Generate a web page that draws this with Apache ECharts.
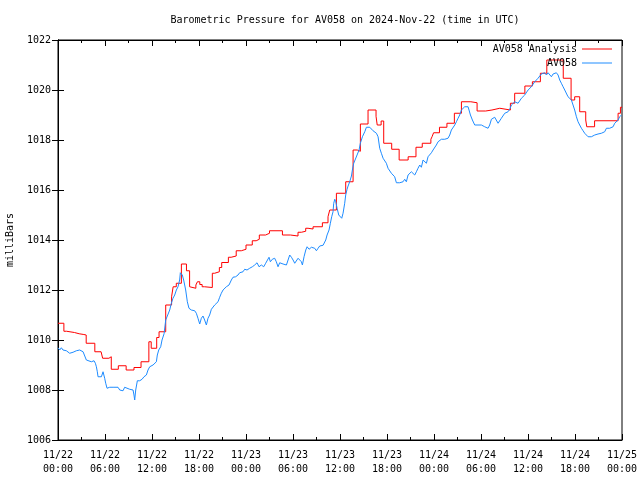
<!DOCTYPE html>
<html>
<head>
<meta charset="utf-8">
<script src="https://cdn.jsdelivr.net/npm/echarts@6/dist/echarts.min.js"></script>
<style>html,body{margin:0;padding:0;background:#fff}#c{width:640px;height:480px}</style>
</head>
<body>
<div id="c"></div>
<script>
// hours since 2024-11-22 00:00 UTC
var xTickLabels = ['11/22\n00:00','11/22\n06:00','11/22\n12:00','11/22\n18:00','11/23\n00:00','11/23\n06:00','11/23\n12:00','11/23\n18:00','11/24\n00:00','11/24\n06:00','11/24\n12:00','11/24\n18:00','11/25\n00:00'];

var redHours = [0,0.75,1.1,2.1,2.35,2.7,3.3,3.6,4.7,5.5,5.7,6.5,6.8,7.7,8.7,9.7,10.6,11.6,11.9,12.6,12.9,13.75,14.5,14.7,15.1,15.75,16.4,16.8,17.0,17.6,17.8,18.1,18.4,18.7,19.7,20.0,20.6,20.9,21.75,22.1,22.75,23.4,24.0,24.8,25.3,25.7,26.5,27.0,28.65,29.67,30.64,31.07,31.62,31.92,32.56,33.75,34.47,34.69,35.54,36.73,37.67,38.2,38.6,39.58,40.6,40.75,41.25,41.58,42.6,43.55,44.7,45.7,46.5,47.6,47.75,47.95,48.7,49.65,50.6,51.5,52.7,53.5,54.6,55.4,56.4,57.75,58.3,59.6,60.56,61.58,62.4,64.5,65.5,65.96,66.6,67.37,67.5,68.5,71.5,71.8,72];
var redValues = [1010.67,1010.35,1010.3,1010.36,1010.25,1010.22,1010.2,1009.87,1009.53,1009.47,1009.27,1009.33,1008.83,1008.97,1008.8,1008.9,1009.13,1009.93,1009.67,1010.1,1010.33,1011.4,1011.73,1012.13,1012.27,1013.04,1012.77,1012.13,1012.07,1012.2,1012.33,1012.22,1012.13,1012.1,1012.67,1012.73,1012.9,1013.1,1013.31,1013.36,1013.57,1013.63,1013.8,1013.97,1014.03,1014.2,1014.27,1014.37,1014.2,1014.16,1014.31,1014.35,1014.47,1014.44,1014.53,1014.69,1014.93,1015.2,1015.87,1016.33,1017.6,1017.55,1018.64,1019.2,1018.95,1018.6,1018.76,1017.87,1017.63,1017.2,1017.33,1017.71,1017.87,1018.03,1018.13,1018.29,1018.51,1018.67,1019.07,1019.53,1019.49,1019.16,1019.2,1019.27,1019.2,1019.47,1019.87,1020.16,1020.33,1020.67,1021.2,1020.47,1019.6,1019.73,1019.13,1018.8,1018.53,1018.77,1019.07,1019.31,1019.31];

var blueHours = [0,0.22,0.43,0.64,0.85,1.07,1.28,1.49,1.71,1.92,2.13,2.34,2.56,2.77,3.2,3.41,3.62,3.83,4.26,4.6,4.77,4.9,5.02,5.11,5.32,5.54,5.75,5.96,6.09,6.26,6.47,6.6,6.81,7.03,7.66,7.88,8.09,8.3,8.51,8.73,9.15,9.58,9.7,9.79,9.92,10.13,10.43,10.73,10.98,11.28,11.49,11.71,12.13,12.34,12.56,12.68,12.86,13.11,13.28,13.54,13.75,14.0,14.26,14.47,14.68,14.9,15.11,15.32,15.53,15.62,15.87,16.04,16.3,16.51,16.72,17.02,17.45,17.66,17.87,18.09,18.3,18.51,18.72,18.94,19.15,19.36,19.58,19.79,20.0,20.43,20.64,20.85,21.07,21.28,21.49,21.83,22.13,22.34,22.68,22.98,23.19,23.62,23.83,24.13,24.47,24.81,25.11,25.41,25.66,25.96,26.26,26.51,26.68,26.94,27.11,27.36,27.66,27.87,28.09,28.3,28.52,28.73,28.94,29.16,29.37,29.58,29.8,30.01,30.22,30.43,30.65,30.86,31.07,31.2,31.41,31.63,31.8,32.05,32.35,32.56,32.77,32.99,33.2,33.41,33.84,34.05,34.18,34.35,34.6,34.77,34.94,35.11,35.2,35.33,35.46,35.63,35.84,36.05,36.22,36.39,36.6,36.73,36.9,37.03,37.24,37.46,37.58,37.75,37.97,38.18,38.43,38.6,38.86,39.16,39.37,39.8,40.01,40.22,40.43,40.65,40.86,41.07,41.28,41.5,41.71,41.92,42.13,42.35,42.56,42.77,42.98,43.2,43.41,43.62,43.83,44.05,44.26,44.47,44.69,44.9,45.11,45.33,45.54,45.75,45.96,46.18,46.39,46.6,46.81,47.03,47.24,47.45,47.67,47.88,48.09,48.3,48.52,48.73,48.94,49.37,49.79,50.01,50.22,50.43,50.65,50.86,51.07,51.28,51.5,51.71,51.92,52.14,52.35,52.47,52.65,52.9,53.2,53.41,53.62,53.84,54.05,54.26,54.47,54.69,54.9,55.11,55.33,55.54,55.75,55.96,56.18,56.39,56.6,56.82,57.03,57.24,57.45,57.67,57.88,58.09,58.3,58.52,58.73,58.94,59.16,59.37,59.58,59.8,60.01,60.22,60.43,60.65,60.86,61.07,61.28,61.5,61.71,61.92,62.13,62.35,62.56,62.77,62.99,63.2,63.41,63.62,63.84,64.05,64.26,64.48,64.69,64.9,65.11,65.33,65.54,65.75,65.96,66.18,66.39,66.6,66.82,67.03,67.24,67.45,67.67,68.09,68.31,68.52,68.73,68.94,69.16,69.37,69.58,69.79,70.01,70.22,70.43,70.65,70.86,71.07,71.28,71.5,71.71,71.93];
var blueValues = [1009.69,1009.6,1009.69,1009.6,1009.67,1009.57,1009.53,1009.47,1009.47,1009.51,1009.53,1009.57,1009.53,1009.6,1009.53,1009.47,1009.2,1009.17,1009.13,1009.17,1009.07,1008.93,1008.73,1008.53,1008.6,1008.53,1008.73,1008.47,1008.27,1008.07,1008.0,1008.11,1008.07,1008.11,1008.11,1008.0,1007.93,1007.97,1008.11,1008.03,1008.03,1008.0,1007.8,1007.6,1008.0,1008.37,1008.37,1008.43,1008.53,1008.6,1008.8,1008.93,1009.0,1008.93,1009.13,1009.4,1009.6,1009.73,1010.0,1010.25,1010.8,1010.87,1011.2,1011.47,1011.67,1011.8,1012.0,1012.13,1012.4,1012.69,1012.6,1012.4,1012.0,1011.53,1011.27,1011.2,1011.17,1011.07,1010.87,1010.64,1010.87,1010.96,1010.8,1010.6,1010.87,1011.0,1011.23,1011.31,1011.4,1011.53,1011.71,1011.87,1012.0,1012.07,1012.13,1012.2,1012.4,1012.51,1012.53,1012.6,1012.69,1012.73,1012.83,1012.8,1012.87,1012.93,1013.0,1013.09,1012.93,1013.0,1012.93,1013.07,1013.13,1013.31,1013.13,1013.23,1013.27,1013.13,1012.93,1013.09,1013.07,1013.04,1013.09,1013.0,1013.2,1013.4,1013.31,1013.2,1013.07,1013.13,1013.27,1013.33,1013.13,1013.0,1013.33,1013.6,1013.73,1013.63,1013.71,1013.63,1013.67,1013.57,1013.67,1013.76,1013.79,1013.73,1014.0,1014.2,1014.4,1014.67,1014.93,1015.13,1015.47,1015.63,1015.53,1015.27,1015.0,1014.93,1014.87,1015.07,1015.47,1015.8,1016.03,1016.16,1016.33,1016.56,1016.8,1017.07,1017.13,1017.4,1017.6,1017.87,1018.13,1018.33,1018.51,1018.51,1018.47,1018.37,1018.33,1018.27,1018.13,1017.67,1017.47,1017.27,1017.33,1017.07,1016.87,1016.8,1016.67,1016.6,1016.53,1016.29,1016.24,1016.29,1016.29,1016.33,1016.43,1016.33,1016.6,1016.67,1016.73,1016.8,1016.6,1016.73,1016.87,1017.0,1016.91,1017.2,1017.13,1017.07,1017.33,1017.4,1017.49,1017.6,1017.67,1017.8,1017.93,1018.0,1018.03,1018.03,1018.07,1018.2,1018.4,1018.47,1018.6,1018.73,1018.87,1019.0,1019.2,1019.27,1019.33,1019.4,1019.33,1019.2,1019.0,1018.8,1018.6,1018.53,1018.6,1018.67,1018.6,1018.53,1018.53,1018.53,1018.47,1018.6,1018.83,1018.8,1018.91,1018.83,1018.67,1018.69,1018.87,1018.93,1019.07,1019.0,1019.13,1019.23,1019.4,1019.47,1019.53,1019.6,1019.47,1019.47,1019.67,1019.73,1019.8,1019.87,1020.0,1020.07,1020.13,1020.2,1020.33,1020.4,1020.47,1020.53,1020.64,1020.67,1020.69,1020.6,1020.69,1020.67,1020.53,1020.64,1020.69,1020.69,1020.6,1020.4,1020.27,1020.13,1020.0,1019.93,1019.73,1019.67,1019.6,1019.4,1019.2,1018.93,1018.73,1018.6,1018.47,1018.37,1018.27,1018.2,1018.13,1018.13,1018.11,1018.2,1018.13,1018.24,1018.16,1018.27,1018.24,1018.33,1018.47,1018.4,1018.47,1018.43,1018.53,1018.67,1018.73,1018.8,1018.93,1019.0];

function pairs(xs, ys) { return xs.map(function (x, i) { return [x, ys[i]]; }); }

var FONT = 'DejaVu Sans Mono';
var chart = echarts.init(document.getElementById('c'), null, {renderer: 'canvas'});
var axisCommon = {
  axisLine: {show: true, lineStyle: {color: '#000', width: 1}},
  splitLine: {show: false}
};
chart.setOption({
  animation: false,
  backgroundColor: '#fff',
  title: {
    text: 'Barometric Pressure for AV058 on 2024-Nov-22 (time in UTC)',
    left: 340, textAlign: 'center', top: 10,
    textStyle: {fontFamily: FONT, fontSize: 10, fontWeight: 'normal', color: '#000'}
  },
  legend: [
    {data: ['AV058 Analysis'], right: 28, top: 44, padding: 0, align: 'right', icon: 'rect', itemWidth: 30, itemHeight: 1,
     textStyle: {fontFamily: FONT, fontSize: 10, color: '#000'}},
    {data: ['AV058'], right: 28, top: 58, padding: 0, align: 'right', icon: 'rect', itemWidth: 30, itemHeight: 1,
     textStyle: {fontFamily: FONT, fontSize: 10, color: '#000'}}
  ],
  grid: {left: 58, right: 18, top: 40, bottom: 40, containLabel: false, outerBoundsMode: 'none',
         show: true, borderColor: '#000', borderWidth: 1, backgroundColor: 'transparent'},
  xAxis: [
    Object.assign({}, axisCommon, {
      type: 'value', min: 0, max: 72, interval: 6, position: 'bottom',
      axisTick: {show: true, inside: true, length: 6, lineStyle: {color: '#000'}},
      minorTick: {show: true, splitNumber: 2, length: 3, lineStyle: {color: '#000'}},
      axisLabel: {fontFamily: FONT, fontSize: 10, color: '#000', margin: 8, lineHeight: 14,
        formatter: function (v) { return xTickLabels[Math.round(v / 6)]; }}
    }),
    Object.assign({}, axisCommon, {
      type: 'value', min: 0, max: 72, interval: 6, position: 'top',
      axisTick: {show: true, inside: true, length: 6, lineStyle: {color: '#000'}},
      minorTick: {show: true, splitNumber: 2, length: 3, lineStyle: {color: '#000'}},
      axisLabel: {show: false}
    })
  ],
  yAxis: [
    Object.assign({}, axisCommon, {
      type: 'value', min: 1006, max: 1022, interval: 2, position: 'left',
      name: 'milliBars', nameLocation: 'middle', nameRotate: 90, nameGap: 43,
      nameTextStyle: {fontFamily: FONT, fontSize: 10, color: '#000'},
      axisTick: {show: true, inside: true, length: 6, lineStyle: {color: '#000'}},
      axisLabel: {fontFamily: FONT, fontSize: 10, color: '#000', margin: 7,
        formatter: function (v) { return String(v); }}
    }),
    Object.assign({}, axisCommon, {
      type: 'value', min: 1006, max: 1022, interval: 2, position: 'right',
      axisTick: {show: true, inside: true, length: 6, lineStyle: {color: '#000'}},
      axisLabel: {show: false}
    })
  ],
  series: [
    {name: 'AV058 Analysis', type: 'line', step: 'end', data: pairs(redHours, redValues),
     showSymbol: false, symbol: 'none', color: '#ff0000', lineStyle: {width: 1, color: '#ff0000'}},
    {name: 'AV058', type: 'line', data: pairs(blueHours, blueValues),
     showSymbol: false, symbol: 'none', color: '#1e8cff', lineStyle: {width: 1, color: '#1e8cff'}}
  ]
});
</script>
</body>
</html>
